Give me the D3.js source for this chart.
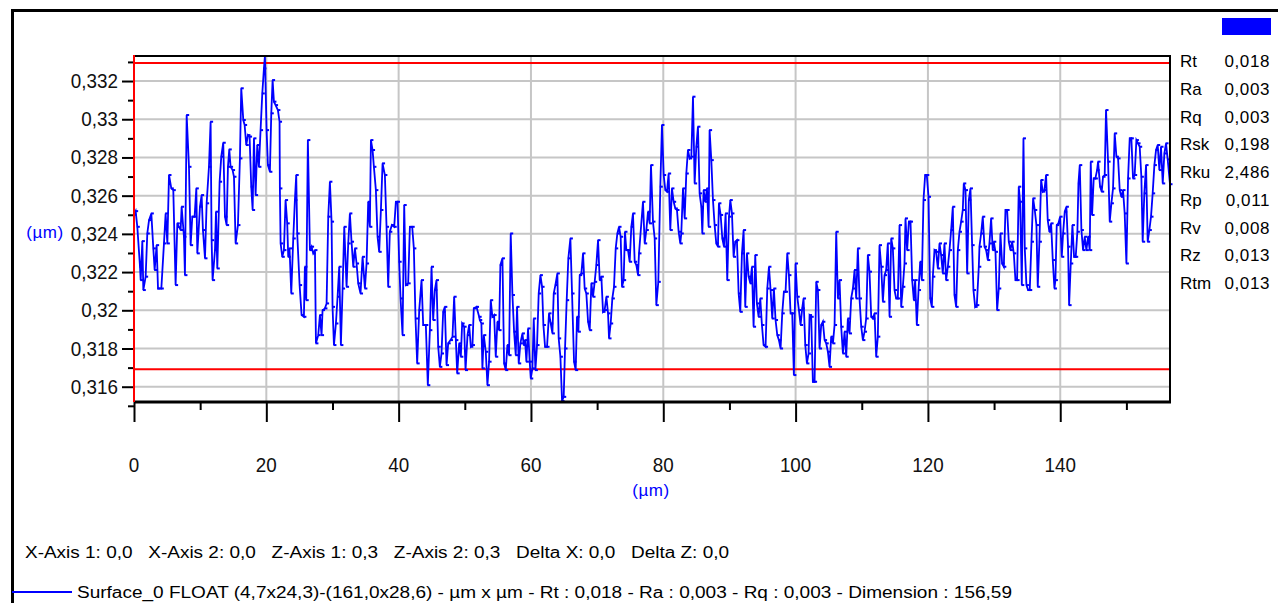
<!DOCTYPE html>
<html><head><meta charset="utf-8">
<script src="https://cdn.jsdelivr.net/npm/d3@7"></script>
<style>html,body{margin:0;padding:0;background:#fff;overflow:hidden}text{font-family:"Liberation Sans",Arial,sans-serif}</style>
</head><body>
<svg id="c" width="1278" height="603" xmlns="http://www.w3.org/2000/svg"></svg>
<script>
const profileX = [
0,0.25,0.50,0.91,1.01,1.26,1.41,1.76,2.01,2.27,2.62,2.92,3.12,3.42,3.63,4.13,4.53,4.78,5.04,5.29,5.64,5.94,6.29,6.55,7.05,7.20,7.55,7.70,7.96,8.31,8.56,8.81,9.16,9.42,9.57,9.97,10.22,10.42,10.73,10.98,11.33,11.58,11.73,11.88,12.24,12.39,12.59,12.94,13.19,13.49,13.75,14.00,14.20,14.40,14.60,14.90,15.11,15.36,15.71,16.01,16.21,16.52,16.72,16.97,17.22,17.47,17.72,17.93,18.13,18.38,18.63,18.88,19.13,19.39,19.64,19.79,20.04,20.24,20.54,20.75,20.95,21.15,21.40,21.75,22.00,22.05,22.16,22.41,22.66,22.91,23.16,23.31,23.51,23.77,24.07,24.32,24.52,24.67,25.03,25.33,25.68,25.83,26.03,26.28,26.59,26.84,27.09,
27.35,27.50,27.85,28.10,28.35,28.50,28.86,29.11,29.36,29.61,29.86,30.01,30.22,30.52,30.77,31.02,31.27,31.53,31.78,32.13,32.38,32.63,32.88,33.14,33.39,33.64,33.89,34.24,34.55,34.90,35.15,35.40,35.65,35.81,36.06,36.26,36.56,36.81,37.06,37.32,37.57,37.92,38.17,38.42,38.67,38.98,39.33,39.58,39.83,40.08,40.29,40.59,40.84,41.09,41.44,41.70,42.05,42.30,42.55,42.80,43.11,43.46,43.71,44.11,44.41,44.72,44.97,45.22,45.47,45.72,45.98,46.23,46.48,46.73,46.98,47.24,47.49,47.84,48.14,48.39,48.65,48.85,49.15,49.40,49.60,49.90,50.11,50.41,50.66,50.91,51.16,51.36,51.77,52.17,
52.26,52.51,52.66,52.87,53.17,53.42,53.67,53.92,54.17,54.43,54.68,54.93,55.18,55.38,55.69,55.94,56.19,56.44,56.69,56.94,57.20,57.45,57.70,57.90,58.15,58.40,58.71,58.91,59.11,59.31,59.56,59.81,59.97,60.22,60.42,60.67,60.92,61.17,61.43,61.68,61.88,62.13,62.43,62.73,62.99,63.24,63.44,63.69,63.99,64.19,64.45,64.70,64.95,65.15,65.40,65.65,65.96,66.21,66.51,66.76,66.96,67.17,67.37,67.62,67.87,68.12,68.37,68.63,68.88,69.13,69.38,69.63,69.88,70.14,70.39,70.64,70.89,71.14,71.40,71.65,71.80,72.05,72.30,72.55,72.81,73.06,73.31,73.56,73.76,74.01,74.21,74.42,74.67,74.92,75.17,75.42,75.68,75.93,76.18,76.33,
76.93,77.19,77.44,77.69,77.94,78.14,78.44,78.70,78.95,79.25,79.55,79.80,80.06,80.31,80.56,80.81,81.06,81.31,81.57,81.82,82.07,82.32,82.57,82.72,82.98,83.23,83.48,83.73,83.98,84.24,84.49,84.74,84.99,85.24,85.49,85.75,85.90,86.10,86.35,86.60,86.85,87.00,87.26,87.51,87.76,88.01,88.26,88.41,88.67,88.92,89.17,89.42,89.67,89.93,90.13,90.38,90.63,90.88,91.13,91.39,91.64,91.89,92.14,92.39,92.64,92.90,93.15,93.40,93.65,93.90,94.15,94.41,94.66,94.91,95.16,95.46,95.72,95.97,96.22,96.47,96.72,96.97,97.23,97.48,97.73,97.98,98.23,98.48,98.74,98.99,99.24,99.49,99.74,99.99,100.25,100.50,100.75,101.00,101.20,101.46,101.71,101.96,
102.11,102.36,102.61,102.87,103.12,103.37,103.62,103.87,104.12,104.38,104.63,104.88,105.13,105.38,105.64,105.89,106.14,106.39,106.64,106.89,107.15,107.40,107.65,107.90,108.15,108.40,108.66,108.91,109.16,109.41,109.66,109.92,110.17,110.42,110.67,110.92,111.17,111.43,111.68,111.93,112.18,112.43,112.68,112.94,113.19,113.44,113.69,113.94,114.20,114.45,114.70,114.95,115.20,115.45,115.71,115.96,116.21,116.46,116.61,116.86,117.12,117.37,117.62,117.87,118.07,118.32,118.58,118.83,119.08,119.33,119.58,119.83,120.09,120.34,120.59,120.74,120.99,121.24,121.50,121.75,122.00,122.25,122.50,122.75,123.01,123.26,123.51,123.76,124.01,124.27,124.52,124.77,125.02,125.27,125.42,125.68,125.93,126.18,126.43,126.68,126.88,127.14,127.39,127.69,
127.79,128.04,128.29,128.55,128.80,129.05,129.30,129.55,129.80,129.96,130.21,130.46,130.71,130.96,131.21,131.47,131.72,131.97,132.22,132.47,132.73,132.98,133.23,133.48,133.73,133.93,134.19,134.44,134.64,134.89,135.14,135.39,135.65,135.90,136.15,136.40,136.60,136.85,137.11,137.36,137.61,137.86,138.11,138.36,138.62,138.87,139.12,139.27,139.47,139.72,139.98,140.23,140.43,140.68,140.93,141.18,141.34,141.59,141.84,142.09,142.34,142.59,142.75,142.95,143.20,143.45,143.70,143.95,144.21,144.46,144.61,144.81,145.06,145.31,145.57,145.72,146.02,146.27,146.47,146.72,146.92,147.23,147.48,147.73,147.98,148.23,148.49,148.74,148.99,149.24,149.49,149.74,150.00,150.25,150.50,150.75,151.00,151.25,151.51,151.76,152.01,152.26,152.46,152.71,152.97,153.22,153.47,153.72,153.97,154.23,154.48,154.73,154.98,155.23,155.49,155.74,155.99,156.24,156.59
];
const profileZ = [
0.32500,0.32519,0.32437,0.32228,0.32158,0.32362,0.32106,0.32176,0.32402,0.32472,0.32507,0.32324,0.32211,0.32341,0.32114,0.32114,0.32350,0.32507,0.32350,0.32708,0.32638,0.32629,0.32132,0.32455,0.32420,0.32542,0.32385,0.32184,0.33022,0.32751,0.32341,0.32490,0.32490,0.32638,0.32298,0.32542,0.32603,0.32420,0.32272,0.32560,0.32751,0.32987,0.32367,0.32158,0.32315,0.32516,0.32219,0.32673,0.32804,0.32877,0.32490,0.32446,0.32751,0.32842,0.32751,0.32734,0.32699,0.32350,0.32446,0.32795,0.33162,0.32996,0.32970,0.32865,0.32917,0.32909,0.32647,0.32525,0.32900,0.32603,0.32865,0.32751,0.32943,0.33135,0.33266,0.33331,0.32943,0.32760,0.32725,0.33031,0.33205,0.33092,0.33074,0.33048,0.32987,0.32638,0.32350,0.32280,0.32315,0.32577,0.32455,0.32280,0.32324,0.32088,0.32376,0.32577,0.32708,0.32402,0.32132,0.31975,0.31966,0.32228,0.32053,0.32891,0.32315,0.32333,0.32298,
0.32315,0.31827,0.31870,0.31975,0.31870,0.32001,0.32010,0.32036,0.32490,0.32673,0.32464,0.32018,0.31818,0.31931,0.32071,0.32228,0.31818,0.32114,0.32437,0.32123,0.32350,0.32507,0.32359,0.32228,0.32324,0.32245,0.32141,0.32088,0.32280,0.32114,0.32245,0.32568,0.32437,0.32891,0.32839,0.32751,0.32629,0.32385,0.32306,0.32525,0.32769,0.32708,0.32437,0.32123,0.32411,0.32446,0.32437,0.32568,0.32568,0.32254,0.32062,0.31870,0.32551,0.32132,0.32141,0.32437,0.32437,0.32324,0.31957,0.31722,0.32001,0.32158,0.31923,0.31923,0.31608,0.31896,0.32228,0.31949,0.32106,0.32158,0.31809,0.31704,0.31774,0.31992,0.32018,0.31713,0.31827,0.31844,0.31862,0.32071,0.31844,0.31670,0.31827,0.31757,0.31931,0.31914,0.31687,0.31870,0.31923,0.31809,0.31818,0.32010,0.32018,0.31966,
0.31949,0.31931,0.31696,0.31870,0.31783,0.31608,0.31731,0.32053,0.31966,0.31975,0.31757,0.31940,0.31896,0.32237,0.32272,0.31722,0.31687,0.31818,0.31765,0.32402,0.32080,0.31888,0.31765,0.32018,0.31722,0.31827,0.31879,0.31818,0.31844,0.31731,0.31905,0.31731,0.31643,0.31696,0.31957,0.31687,0.31818,0.32088,0.32184,0.32123,0.31923,0.31809,0.31809,0.31984,0.31931,0.31879,0.32088,0.32132,0.32193,0.31853,0.31757,0.31525,0.31547,0.31800,0.32053,0.32272,0.32376,0.32088,0.31731,0.31687,0.31966,0.31888,0.32184,0.32193,0.32298,0.32114,0.32088,0.31940,0.31896,0.32141,0.32071,0.32149,0.32237,0.32367,0.32158,0.32176,0.31992,0.32001,0.32071,0.31984,0.31853,0.31931,0.32062,0.32123,0.32324,0.32402,0.32437,0.32385,0.32123,0.32158,0.32411,0.32315,0.32315,0.32254,0.32437,0.32507,0.32254,0.32237,0.32184,0.32298,
0.32568,0.32350,0.32420,0.32516,0.32455,0.32760,0.32464,0.32376,0.32027,0.32149,0.32647,0.32970,0.32708,0.32629,0.32621,0.32716,0.32420,0.32638,0.32568,0.32533,0.32525,0.32411,0.32350,0.32402,0.32638,0.32481,0.32716,0.32839,0.32795,0.32804,0.33118,0.32664,0.32856,0.32961,0.32612,0.32542,0.32402,0.32629,0.32568,0.32638,0.32437,0.32943,0.32786,0.32577,0.32446,0.32350,0.32333,0.32560,0.32499,0.32376,0.32333,0.32507,0.32158,0.32490,0.32577,0.32507,0.32280,0.32359,0.32367,0.32088,0.31992,0.32298,0.32420,0.32018,0.32298,0.32176,0.32141,0.32228,0.31914,0.32289,0.32036,0.31966,0.32062,0.31923,0.31818,0.31809,0.32114,0.32228,0.32106,0.31957,0.32114,0.31949,0.31870,0.31844,0.31800,0.31984,0.32097,0.32097,0.32298,0.32184,0.31984,0.31984,0.31661,0.32245,0.32071,0.32001,0.31923,0.32010,0.32062,0.31818,0.31722,0.31774,
0.31975,0.31966,0.31626,0.31626,0.32149,0.32106,0.31800,0.31923,0.31940,0.31844,0.31827,0.31783,0.31704,0.31862,0.31827,0.31923,0.32411,0.32062,0.32158,0.31914,0.31774,0.31888,0.31757,0.31957,0.31879,0.32062,0.32114,0.32211,0.32062,0.32324,0.32062,0.31914,0.31844,0.31888,0.31957,0.32289,0.32202,0.31966,0.31957,0.31984,0.31757,0.31862,0.32341,0.32228,0.32045,0.32184,0.32211,0.32350,0.31966,0.32376,0.32324,0.32106,0.32062,0.32062,0.32446,0.32018,0.32123,0.32245,0.32481,0.32315,0.32464,0.32464,0.32158,0.32053,0.32158,0.31923,0.32106,0.32254,0.32158,0.32577,0.32708,0.32708,0.32594,0.32062,0.32018,0.32176,0.32315,0.32306,0.32219,0.32350,0.32289,0.32193,0.32350,0.32158,0.32228,0.32315,0.32420,0.32542,0.32080,0.32018,0.32315,0.32411,0.32464,0.32525,0.32664,0.32629,0.32193,0.32577,0.32638,0.32341,0.32106,0.32018,0.32027,0.32228,
0.32333,0.32402,0.32490,0.32333,0.32315,0.32263,0.32350,0.32481,0.32315,0.32359,0.32306,0.32001,0.32114,0.32402,0.32245,0.32228,0.32525,0.32525,0.32359,0.32315,0.32359,0.32298,0.32158,0.32158,0.32647,0.32568,0.32132,0.32900,0.32324,0.32132,0.32106,0.32106,0.32359,0.32586,0.32525,0.32446,0.32123,0.32359,0.32682,0.32621,0.32629,0.32708,0.32472,0.32411,0.32455,0.32263,0.32114,0.32158,0.32446,0.32455,0.32490,0.32280,0.32402,0.32516,0.32542,0.32333,0.32027,0.32245,0.32446,0.32280,0.32280,0.32411,0.32664,0.32760,0.32420,0.32315,0.32385,0.32315,0.32385,0.32315,0.32778,0.32499,0.32690,0.32690,0.32734,0.32778,0.32647,0.32621,0.32699,0.32708,0.33048,0.32778,0.32464,0.32560,0.32638,0.32926,0.32804,0.32795,0.32629,0.32594,0.32629,0.32507,0.32245,0.32690,0.32900,0.32900,0.32690,0.32708,0.32891,0.32874,0.32856,0.32699,0.32359,0.32612,0.32760,0.32359,0.32420,0.32490,0.32612,0.32760,0.32839,0.32865,0.32734,0.32856,0.32664,0.32821,0.32874,0.32790,0.32660
];
const xTicks = [0, 20, 40, 60, 80, 100, 120, 140];
const xMinorTicks = [10, 30, 50, 70, 90, 110, 130, 150];
const zTicks = [0.316, 0.318, 0.320, 0.322, 0.324, 0.326, 0.328, 0.330, 0.332];
const zMinorTicks = [0.315, 0.317, 0.319, 0.321, 0.323, 0.325, 0.327, 0.329, 0.331, 0.333];
const limitLines = [0.33294, 0.31692];
const statNames = ["Rt", "Ra", "Rq", "Rsk", "Rku", "Rp", "Rv", "Rz", "Rtm"];
const statValues = ["0,018", "0,003", "0,003", "0,198", "2,486", "0,011", "0,008", "0,013", "0,013"];
const cursorText = "X-Axis 1: 0,0   X-Axis 2: 0,0   Z-Axis 1: 0,3   Z-Axis 2: 0,3   Delta X: 0,0   Delta Z: 0,0";
const legendText = "Surface_0 FLOAT (4,7x24,3)-(161,0x28,6) - µm x µm - Rt : 0,018 - Ra : 0,003 - Rq : 0,003 - Dimension : 156,59";
const unitLabel = "(µm)";

const svg = d3.select("#c");
const L = 134, R = 1170, T = 56, B = 402;
const x = d3.scaleLinear().domain([0, 156.59]).range([L, R]);
const z = d3.scaleLinear().domain([0.31520, 0.33331]).range([B, T]);
const fr = d3.formatLocale({decimal: ",", thousands: ".", grouping: [3], currency: ["", ""]});
const fmt = fr.format(".3~f");
const BLUE = "#0000ff";

// outer frame
svg.append("line").attr("x1", 12).attr("x2", 1278).attr("y1", 10.5).attr("y2", 10.5).attr("stroke", "#000").attr("stroke-width", 3);
svg.append("line").attr("x1", 12.5).attr("x2", 12.5).attr("y1", 9).attr("y2", 603).attr("stroke", "#000").attr("stroke-width", 3);
svg.append("rect").attr("x", 1222).attr("y", 18).attr("width", 49).attr("height", 17).attr("fill", BLUE);

// grid
const grid = svg.append("g");
grid.selectAll(".hg").data(zTicks).join("line")
  .attr("x1", L).attr("x2", R).attr("y1", d => z(d)).attr("y2", d => z(d))
  .attr("stroke", "#c6c6c6").attr("stroke-width", 2);
grid.selectAll(".vg").data(xTicks.slice(1)).join("line")
  .attr("x1", d => x(d)).attr("x2", d => x(d)).attr("y1", T).attr("y2", B)
  .attr("stroke", "#c6c6c6").attr("stroke-width", 2);

// limit lines
svg.selectAll(".lim").data(limitLines).join("line")
  .attr("x1", L).attr("x2", R).attr("y1", d => z(d)).attr("y2", d => z(d))
  .attr("stroke", "#ff0000").attr("stroke-width", 2);

// profile
const pts = d3.zip(profileX, profileZ);
const line = d3.line().x(d => x(d[0])).y(d => z(d[1]));
svg.append("path").datum(pts).attr("d", line).attr("fill", "none")
  .attr("stroke", BLUE).attr("stroke-width", 1.8).attr("stroke-linejoin", "miter");
svg.append("g").selectAll("rect").data(pts).join("rect")
  .attr("x", d => x(d[0]) - 0.5).attr("y", d => z(d[1]) - 1)
  .attr("width", 3).attr("height", 2).attr("fill", BLUE);

// frame of plot
svg.append("line").attr("x1", L).attr("x2", R + 1).attr("y1", T).attr("y2", T).attr("stroke", "#000").attr("stroke-width", 2);
svg.append("line").attr("x1", R).attr("x2", R).attr("y1", T).attr("y2", B).attr("stroke", "#000").attr("stroke-width", 2);

// x axis
const xAxis = svg.append("g").attr("transform", `translate(0,${B})`)
  .call(d3.axisBottom(x).tickValues(xTicks).tickSize(20).tickFormat(""));
xAxis.select(".domain").attr("stroke", "#000").attr("stroke-width", 3).attr("d", `M${L},0H${R + 1}`);
xAxis.selectAll(".tick line").attr("stroke", "#000").attr("stroke-width", 2);
const xAxisMinor = svg.append("g").attr("transform", `translate(0,${B})`)
  .call(d3.axisBottom(x).tickValues(xMinorTicks).tickSize(8).tickFormat(""));
xAxisMinor.select(".domain").remove();
xAxisMinor.selectAll(".tick line").attr("stroke", "#000").attr("stroke-width", 2);
svg.append("g").selectAll("text").data(xTicks).join("text")
  .attr("transform", d => `translate(${x(d)},472) scale(0.92,1)`)
  .attr("text-anchor", "middle").attr("font-size", 20.5).attr("fill", "#111").text(d => d);

// y axis
const yAxis = svg.append("g").attr("transform", `translate(${L},0)`)
  .call(d3.axisLeft(z).tickValues(zTicks).tickSize(12).tickFormat(""));
yAxis.select(".domain").remove();
yAxis.selectAll(".tick line").attr("stroke", "#000").attr("stroke-width", 2);
const yAxisMinor = svg.append("g").attr("transform", `translate(${L},0)`)
  .call(d3.axisLeft(z).tickValues(zMinorTicks).tickSize(6).tickFormat(""));
yAxisMinor.select(".domain").remove();
yAxisMinor.selectAll(".tick line").attr("stroke", "#000").attr("stroke-width", 2);
svg.append("line").attr("x1", L).attr("x2", L).attr("y1", T - 1).attr("y2", B).attr("stroke", "#ff0000").attr("stroke-width", 2);
svg.append("g").selectAll("text").data(zTicks).join("text")
  .attr("transform", d => `translate(118,${z(d) + 7}) scale(0.92,1)`)
  .attr("text-anchor", "end").attr("font-size", 20.5).attr("fill", "#111").text(d => fmt(d));

svg.append("text").attr("x", 45).attr("y", 238).attr("text-anchor", "middle")
  .attr("font-size", 17).attr("letter-spacing", 0.5).attr("fill", BLUE).text(unitLabel);
svg.append("text").attr("x", 651).attr("y", 496).attr("text-anchor", "middle")
  .attr("font-size", 17).attr("letter-spacing", 0.5).attr("fill", BLUE).text(unitLabel);

// statistics
const sy = d3.scalePoint().domain(statNames).range([61, 283]);
const stats = svg.append("g");
stats.selectAll(".sn").data(statNames).join("text")
  .attr("x", 1180).attr("y", d => sy(d) + 6).attr("font-size", 17).attr("fill", "#000").text(d => d);
stats.selectAll(".sv").data(statValues).join("text")
  .attr("x", 1270).attr("y", (d, i) => sy(statNames[i]) + 6).attr("text-anchor", "end")
  .attr("font-size", 17).attr("letter-spacing", 0.6).attr("fill", "#000").text(d => d);

// bottom texts
svg.append("text").attr("x", 25).attr("y", 558).attr("font-size", 16).attr("fill", "#000")
  .attr("textLength", 704).attr("lengthAdjust", "spacingAndGlyphs").attr("xml:space", "preserve")
  .style("white-space", "pre").text(cursorText);
svg.append("line").attr("x1", 12).attr("x2", 72).attr("y1", 592).attr("y2", 592).attr("stroke", BLUE).attr("stroke-width", 2);
svg.append("text").attr("x", 77).attr("y", 598).attr("font-size", 16).attr("fill", "#000")
  .attr("textLength", 935).attr("lengthAdjust", "spacingAndGlyphs").text(legendText);
</script>
</body></html>
